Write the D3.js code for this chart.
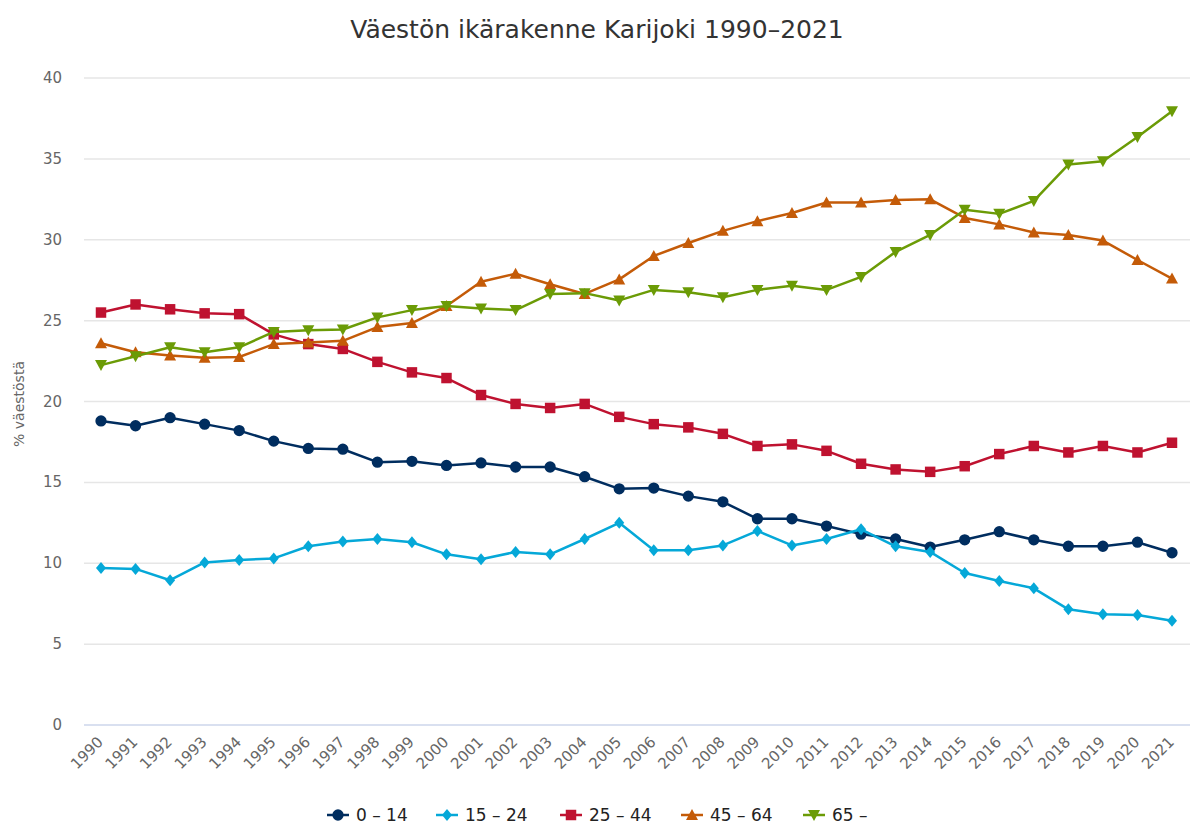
<!DOCTYPE html>
<html>
<head>
<meta charset="utf-8">
<script src="https://cdn.jsdelivr.net/npm/d3@7"></script>
<style>
  body { margin: 0; background: #fff; }
  svg { font-family: 'DejaVu Sans', Verdana, sans-serif; }
</style>
</head>
<body>
<svg id="chart" width="1197" height="825"></svg>
<script>
// Data
var years = d3.range(1990, 2022)
var age_0_14 = [18.8, 18.5, 19.0, 18.6, 18.2, 17.55, 17.1, 17.05, 16.25, 16.3, 16.05, 16.2, 15.95, 15.95, 15.35, 14.6,
  14.65, 14.15, 13.8, 12.75, 12.75, 12.3, 11.8, 11.5, 11.0, 11.45, 11.95, 11.45, 11.05, 11.05, 11.3, 10.65]
var age_15_24 = [9.7, 9.65, 8.95, 10.05, 10.2, 10.3, 11.05, 11.35, 11.5, 11.3, 10.55, 10.25, 10.7, 10.55, 11.5, 12.5,
  10.8, 10.8, 11.1, 12.0, 11.1, 11.5, 12.1, 11.05, 10.7, 9.4, 8.9, 8.45, 7.15, 6.85, 6.8, 6.45]
var age_25_44 = [25.5, 26.0, 25.7, 25.45, 25.4, 24.15, 23.55, 23.25, 22.45, 21.8, 21.45, 20.4, 19.85, 19.6, 19.85, 19.05,
  18.6, 18.4, 18.0, 17.25, 17.35, 16.95, 16.15, 15.8, 15.65, 16.0, 16.75, 17.25, 16.85, 17.25, 16.85, 17.45]
var age_45_64 = [23.6, 23.05, 22.85, 22.7, 22.75, 23.55, 23.65, 23.75, 24.6, 24.85, 25.9, 27.4, 27.9, 27.25, 26.65, 27.55,
  29.0, 29.8, 30.55, 31.15, 31.65, 32.3, 32.3, 32.45, 32.5, 31.35, 30.95, 30.45, 30.3, 29.95, 28.75, 27.6]
var age_65 = [22.25, 22.8, 23.35, 23.05, 23.35, 24.3, 24.4, 24.45, 25.2, 25.65, 25.9, 25.75, 25.65, 26.65, 26.7, 26.25,
  26.9, 26.75, 26.45, 26.9, 27.15, 26.9, 27.7, 29.25, 30.3, 31.85, 31.6, 32.4, 34.65, 34.85, 36.35, 37.95]
var series_names = ['0 – 14', '15 – 24', '25 – 44', '45 – 64', '65 –']
var y_ticks = [0, 5, 10, 15, 20, 25, 30, 35, 40]

var series = [
  { name: series_names[0], values: age_0_14, color: '#002d5f', symbol: 'circle' },
  { name: series_names[1], values: age_15_24, color: '#05a8d8', symbol: 'diamond' },
  { name: series_names[2], values: age_25_44, color: '#bf1230', symbol: 'square' },
  { name: series_names[3], values: age_45_64, color: '#c45b08', symbol: 'up' },
  { name: series_names[4], values: age_65, color: '#6b9b06', symbol: 'down' }
]

var svg = d3.select('#chart')
var grid_left = 84
var grid_right = 1190

var x = d3.scaleLinear().domain([1990, 2021]).range([101, 1172])
var y = d3.scaleLinear().domain([0, 40]).range([725, 78])

// Title
svg.append('text')
  .attr('x', 597)
  .attr('y', 38)
  .attr('text-anchor', 'middle')
  .style('font-size', '25px')
  .style('fill', '#333')
  .text('Väestön ikärakenne Karijoki 1990–2021')

// Grid + y labels
y_ticks.forEach(t => {
  svg.append('line')
    .attr('x1', grid_left).attr('x2', grid_right)
    .attr('y1', y(t)).attr('y2', y(t))
    .style('stroke', t == 0 ? '#ccd6eb' : '#e6e6e6')
    .style('stroke-width', 1.5)
  svg.append('text')
    .attr('x', 62)
    .attr('y', y(t) + 5)
    .attr('text-anchor', 'end')
    .style('font-size', '15px')
    .style('fill', '#666')
    .text(t)
})

// y axis title
svg.append('text')
  .attr('transform', 'translate(24,' + 404 + ') rotate(-90)')
  .attr('text-anchor', 'middle')
  .style('font-size', '14px')
  .style('fill', '#666')
  .text('% väestöstä')

// x labels
years.forEach(yr => {
  svg.append('text')
    .attr('transform', 'translate(' + (x(yr) + 3) + ',743) rotate(-45)')
    .attr('text-anchor', 'end')
    .style('font-size', '15px')
    .style('fill', '#666')
    .text(yr)
})

function symbol_path(sym) {
  if (sym == 'circle') return d3.symbol(d3.symbolCircle, 100)()
  if (sym == 'square') return d3.symbol(d3.symbolSquare, 110)()
  if (sym == 'diamond') return 'M0,-6L5,0L0,6L-5,0Z'
  if (sym == 'up') return 'M0,-6L6,5L-6,5Z'
  if (sym == 'down') return 'M0,6L6,-5L-6,-5Z'
}

var line = d3.line()
  .x((d, i) => x(years[i]))
  .y(d => y(d))

series.forEach(s => {
  svg.append('path')
    .attr('d', line(s.values))
    .style('fill', 'none')
    .style('stroke', s.color)
    .style('stroke-width', 2.5)
    .style('stroke-linejoin', 'round')

  svg.selectAll(null)
    .data(s.values)
    .enter()
    .append('path')
    .attr('d', symbol_path(s.symbol))
    .attr('transform', (d, i) => 'translate(' + x(years[i]) + ',' + y(d) + ')')
    .style('fill', s.color)
})

// Legend
var legend_x = [327, 436, 560, 681, 803]
series.forEach((s, i) => {
  var g = svg.append('g').attr('transform', 'translate(' + legend_x[i] + ',815)')
  g.append('line')
    .attr('x1', 0).attr('x2', 22)
    .attr('y1', 0).attr('y2', 0)
    .style('stroke', s.color)
    .style('stroke-width', 2.5)
  g.append('path')
    .attr('d', symbol_path(s.symbol))
    .attr('transform', 'translate(11,0)')
    .style('fill', s.color)
  g.append('text')
    .attr('x', 29)
    .attr('y', 6)
    .style('font-size', '17px')
    .style('fill', '#222')
    .text(s.name)
})
</script>
</body>
</html>
